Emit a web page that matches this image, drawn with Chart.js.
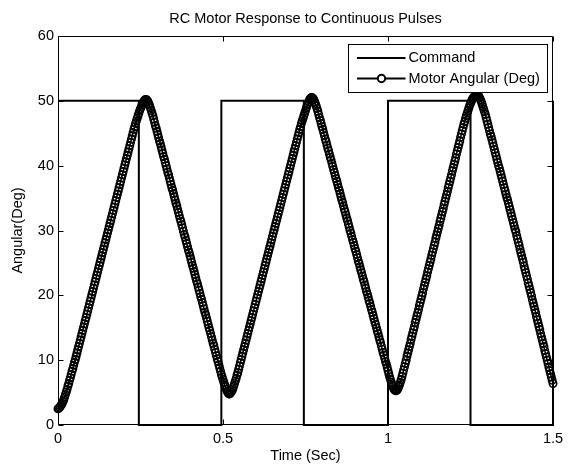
<!DOCTYPE html>
<html>
<head>
<meta charset="utf-8">
<title>RC Motor Response to Continuous Pulses</title>
<script src="https://cdn.jsdelivr.net/npm/chart.js@4.4.0/dist/chart.umd.min.js"></script>
<style>
    html, body { margin: 0; padding: 0; background: #fff; }
    #chart { display: block; }
</style>
</head>
<body>
<canvas id="chart" width="569" height="465"></canvas>
<script>
// tiempo entre muestras del motor (s)
const pasoMuestra = 0.0025;

const tiempoComando = [0, 0.245, 0.245, 0.495, 0.495, 0.745, 0.745, 1.0, 1.0, 1.25, 1.25, 1.5, 1.5];
const nivelComando = [50, 50, 0, 0, 50, 50, 0, 0, 50, 50, 0, 0, 50];

// angulo del motor, un arreglo por cada pulso (0-0.5 s, 0.5-1 s, 1-1.5 s)
const motorPulso1 = [
    2.5, 2.6, 2.7, 2.9, 3.1, 3.3, 3.6, 3.9, 4.3, 4.7,
    5.1, 5.5, 6.0, 6.4, 6.9, 7.3, 7.8, 8.3, 8.7, 9.2,
    9.7, 10.1, 10.6, 11.1, 11.6, 12.1, 12.6, 13.1, 13.6, 14.1,
    14.6, 15.1, 15.6, 16.1, 16.6, 17.1, 17.6, 18.1, 18.6, 19.1,
    19.6, 20.1, 20.6, 21.1, 21.6, 22.1, 22.6, 23.1, 23.6, 24.1,
    24.6, 25.1, 25.6, 26.1, 26.6, 27.1, 27.6, 28.1, 28.6, 29.1,
    29.6, 30.1, 30.6, 31.1, 31.6, 32.1, 32.6, 33.1, 33.6, 34.1,
    34.6, 35.1, 35.6, 36.1, 36.6, 37.1, 37.6, 38.1, 38.6, 39.1,
    39.6, 40.1, 40.6, 41.1, 41.6, 42.1, 42.6, 43.1, 43.6, 44.1,
    44.6, 45.1, 45.6, 46.0, 46.5, 46.9, 47.3, 47.7, 48.1, 48.5,
    48.8, 49.1, 49.4, 49.7, 49.9, 50.1, 50.2, 50.2, 50.1, 49.9,
    49.6, 49.3, 48.9, 48.5, 48.1, 47.7, 47.2, 46.7, 46.2, 45.8,
    45.3, 44.8, 44.3, 43.8, 43.4, 42.9, 42.4, 41.9, 41.4, 41.0,
    40.5, 40.0, 39.5, 39.0, 38.6, 38.1, 37.6, 37.1, 36.6, 36.2,
    35.7, 35.2, 34.7, 34.2, 33.8, 33.3, 32.8, 32.3, 31.8, 31.4,
    30.9, 30.4, 29.9, 29.4, 29.0, 28.5, 28.0, 27.5, 27.0, 26.6,
    26.1, 25.6, 25.1, 24.6, 24.2, 23.7, 23.2, 22.7, 22.2, 21.8,
    21.3, 20.8, 20.3, 19.8, 19.4, 18.9, 18.4, 17.9, 17.4, 17.0,
    16.5, 16.0, 15.5, 15.0, 14.6, 14.1, 13.6, 13.1, 12.6, 12.2,
    11.7, 11.2, 10.7, 10.2, 9.8, 9.3, 8.8, 8.3, 7.8, 7.4
];
const motorPulso2 = [
    7.0, 6.6, 6.2, 5.9, 5.5, 5.2, 5.0, 4.8, 4.8, 4.9,
    5.1, 5.3, 5.6, 6.0, 6.4, 6.8, 7.2, 7.7, 8.1, 8.6,
    9.1, 9.6, 10.1, 10.6, 11.1, 11.6, 12.1, 12.6, 13.1, 13.6,
    14.1, 14.6, 15.1, 15.6, 16.1, 16.6, 17.1, 17.6, 18.1, 18.6,
    19.1, 19.6, 20.1, 20.6, 21.1, 21.6, 22.1, 22.6, 23.1, 23.6,
    24.1, 24.6, 25.1, 25.6, 26.1, 26.6, 27.1, 27.6, 28.1, 28.6,
    29.1, 29.6, 30.1, 30.6, 31.1, 31.6, 32.1, 32.6, 33.1, 33.6,
    34.1, 34.6, 35.1, 35.6, 36.1, 36.6, 37.1, 37.6, 38.1, 38.6,
    39.1, 39.6, 40.1, 40.6, 41.1, 41.6, 42.1, 42.6, 43.1, 43.6,
    44.1, 44.6, 45.1, 45.6, 46.0, 46.5, 46.9, 47.3, 47.7, 48.1,
    48.5, 48.9, 49.3, 49.6, 49.9, 50.2, 50.4, 50.5, 50.5, 50.4,
    50.2, 49.9, 49.6, 49.2, 48.8, 48.4, 47.9, 47.4, 47.0, 46.5,
    46.0, 45.6, 45.1, 44.6, 44.1, 43.7, 43.2, 42.7, 42.3, 41.8,
    41.3, 40.9, 40.4, 39.9, 39.4, 39.0, 38.5, 38.0, 37.6, 37.1,
    36.6, 36.2, 35.7, 35.2, 34.7, 34.3, 33.8, 33.3, 32.9, 32.4,
    31.9, 31.5, 31.0, 30.5, 30.0, 29.6, 29.1, 28.6, 28.2, 27.7,
    27.2, 26.8, 26.3, 25.8, 25.3, 24.9, 24.4, 23.9, 23.5, 23.0,
    22.5, 22.1, 21.6, 21.1, 20.6, 20.2, 19.7, 19.2, 18.8, 18.3,
    17.8, 17.4, 16.9, 16.4, 15.9, 15.5, 15.0, 14.5, 14.1, 13.6,
    13.1, 12.7, 12.2, 11.7, 11.2, 10.8, 10.3, 9.8, 9.4, 8.9
];
const motorPulso3 = [
    8.4, 7.9, 7.4, 7.0, 6.6, 6.2, 5.9, 5.6, 5.4, 5.3,
    5.3, 5.4, 5.6, 5.9, 6.2, 6.6, 7.0, 7.5, 8.0, 8.5,
    9.0, 9.5, 10.0, 10.6, 11.1, 11.6, 12.1, 12.6, 13.2, 13.7,
    14.2, 14.7, 15.2, 15.8, 16.3, 16.8, 17.3, 17.8, 18.4, 18.9,
    19.4, 19.9, 20.4, 21.0, 21.5, 22.0, 22.5, 23.0, 23.6, 24.1,
    24.6, 25.1, 25.6, 26.2, 26.7, 27.2, 27.7, 28.2, 28.8, 29.3,
    29.8, 30.3, 30.8, 31.4, 31.9, 32.4, 32.9, 33.4, 34.0, 34.5,
    35.0, 35.5, 36.0, 36.6, 37.1, 37.6, 38.1, 38.6, 39.2, 39.7,
    40.2, 40.7, 41.2, 41.8, 42.3, 42.8, 43.3, 43.8, 44.4, 44.9,
    45.4, 45.9, 46.4, 46.8, 47.3, 47.7, 48.1, 48.5, 48.9, 49.3,
    49.6, 49.9, 50.2, 50.4, 50.6, 50.8, 50.9, 51.0, 51.0, 50.9,
    50.7, 50.5, 50.2, 49.9, 49.5, 49.1, 48.7, 48.3, 47.9, 47.4,
    46.9, 46.4, 45.9, 45.4, 44.9, 44.5, 44.0, 43.5, 43.0, 42.5,
    42.0, 41.5, 41.0, 40.5, 40.0, 39.6, 39.1, 38.6, 38.1, 37.6,
    37.1, 36.6, 36.1, 35.6, 35.1, 34.7, 34.2, 33.7, 33.2, 32.7,
    32.2, 31.7, 31.2, 30.7, 30.2, 29.8, 29.2, 28.7, 28.2, 27.7,
    27.1, 26.6, 26.1, 25.6, 25.1, 24.5, 24.0, 23.5, 23.0, 22.5,
    21.9, 21.4, 20.9, 20.4, 19.9, 19.3, 18.8, 18.3, 17.8, 17.3,
    16.7, 16.2, 15.7, 15.2, 14.7, 14.1, 13.6, 13.1, 12.6, 12.1,
    11.5, 11.0, 10.5, 10.0, 9.5, 8.9, 8.4, 7.9, 7.4, 6.9,
    6.4
];

const ticksX = [0, 0.5, 1, 1.5];
const etiquetasX = ["0", "0.5", "1", "1.5"];
const ticksY = [0, 10, 20, 30, 40, 50, 60];
const etiquetasY = ["0", "10", "20", "30", "40", "50", "60"];
const nombresSeries = ["Command", "Motor Angular (Deg)"];

const fuente = '"Liberation Sans", Arial, Helvetica, sans-serif';
const tamanoTexto = 14.5;

const anguloMotor = [...motorPulso1, ...motorPulso2, ...motorPulso3];
const puntosMotor = anguloMotor.map((valor, i) => ({ x: i * pasoMuestra, y: valor }));
const puntosComando = tiempoComando.map((t, i) => ({ x: t, y: nivelComando[i] }));

// marco de ejes con marcas hacia adentro en los cuatro lados
const marcoEjes = {
    id: "marcoEjes",
    afterDraw(chart) {
        const ctx = chart.ctx;
        const area = chart.chartArea;
        const ejeX = chart.scales.x;
        const ejeY = chart.scales.y;
        const largo = 5;
        const izq = area.left + 0.5, der = area.right - 0.5;
        const arr = area.top + 0.5, aba = area.bottom - 0.5;

        ctx.save();
        ctx.strokeStyle = "#000";
        ctx.lineWidth = 1;
        ctx.beginPath();
        ctx.rect(izq, arr, der - izq, aba - arr);
        ticksX.forEach(v => {
            const px = Math.round(ejeX.getPixelForValue(v)) + 0.5;
            ctx.moveTo(px, aba); ctx.lineTo(px, aba - largo);
            ctx.moveTo(px, arr); ctx.lineTo(px, arr + largo);
        });
        ticksY.forEach(v => {
            const py = Math.round(ejeY.getPixelForValue(v)) + 0.5;
            ctx.moveTo(izq, py); ctx.lineTo(izq + largo, py);
            ctx.moveTo(der, py); ctx.lineTo(der - largo, py);
        });
        ctx.stroke();
        ctx.restore();
    }
};

const leyendaCaja = {
    id: "leyendaCaja",
    afterDraw(chart) {
        const ctx = chart.ctx;
        const area = chart.chartArea;
        const ancho = 199, alto = 48;
        const x0 = Math.round(area.right - 6 - ancho) + 0.5;
        const y0 = Math.round(area.top + 7.5) + 0.5;
        const filas = [y0 + 13.5, y0 + 34];

        ctx.save();
        ctx.fillStyle = "#fff";
        ctx.fillRect(x0, y0, ancho, alto);
        ctx.strokeStyle = "#000";
        ctx.lineWidth = 1;
        ctx.strokeRect(x0, y0, ancho, alto);

        chart.data.datasets.forEach((ds, i) => {
            const y = filas[i];
            ctx.beginPath();
            ctx.strokeStyle = ds.borderColor;
            ctx.lineWidth = 2;
            ctx.moveTo(x0 + 8.5, y);
            ctx.lineTo(x0 + 57, y);
            ctx.stroke();
            if (ds.pointRadius > 0) {
                ctx.beginPath();
                ctx.lineWidth = ds.pointBorderWidth + 0.4;
                ctx.arc(x0 + 33, y, ds.pointRadius, 0, 2 * Math.PI);
                ctx.fillStyle = "#fff";
                ctx.fill();
                ctx.stroke();
            }
            ctx.fillStyle = "#000";
            ctx.font = tamanoTexto + "px " + fuente;
            ctx.textAlign = "left";
            ctx.textBaseline = "middle";
            ctx.fillText(ds.label, x0 + 60, y);
        });
        ctx.restore();
    }
};

const contexto = document.getElementById("chart").getContext("2d");

new Chart(contexto, {
    type: "line",
    data: {
        datasets: [
            {
                label: nombresSeries[0],
                data: puntosComando,
                borderColor: "#000",
                borderWidth: 2,
                pointRadius: 0,
                tension: 0,
                clip: false,
                order: 1
            },
            {
                label: nombresSeries[1],
                data: puntosMotor,
                borderColor: "#000",
                borderWidth: 1.5,
                pointRadius: 3.7,
                pointBorderWidth: 1.6,
                pointBorderColor: "#000",
                pointBackgroundColor: "rgba(0,0,0,0)",
                pointStyle: "circle",
                tension: 0,
                clip: false,
                order: 0
            }
        ]
    },
    options: {
        responsive: false,
        devicePixelRatio: 1,
        animation: false,
        events: [],
        layout: { padding: { left: 0, right: 16, top: 0, bottom: 0 } },
        plugins: {
            legend: { display: false },
            tooltip: { enabled: false },
            title: {
                display: true,
                text: "RC Motor Response to Continuous Pulses",
                color: "#000",
                fullSize: false,
                font: { family: fuente, size: tamanoTexto, weight: "normal", lineHeight: 1.2 },
                padding: { top: 10, bottom: 8.6 }
            }
        },
        scales: {
            x: {
                type: "linear",
                min: 0,
                max: 1.5,
                afterBuildTicks: eje => { eje.ticks = ticksX.map(v => ({ value: v })); },
                afterFit: eje => { eje.height = 40; },
                grid: { display: false, drawTicks: false },
                border: { display: false },
                ticks: {
                    color: "#000",
                    padding: 5.5,
                    maxRotation: 0,
                    autoSkip: false,
                    font: { family: fuente, size: tamanoTexto },
                    callback: (valor, indice) => etiquetasX[indice]
                },
                title: {
                    display: true,
                    text: "Time (Sec)",
                    color: "#000",
                    font: { family: fuente, size: tamanoTexto },
                    padding: { top: 0, bottom: 0 }
                }
            },
            y: {
                type: "linear",
                min: 0,
                max: 60,
                afterBuildTicks: eje => { eje.ticks = ticksY.map(v => ({ value: v })); },
                afterFit: eje => { eje.width = 58; },
                grid: { display: false, drawTicks: false },
                border: { display: false },
                ticks: {
                    color: "#000",
                    padding: 4,
                    autoSkip: false,
                    font: { family: fuente, size: tamanoTexto },
                    callback: (valor, indice) => etiquetasY[indice]
                },
                title: {
                    display: true,
                    text: "Angular(Deg)",
                    color: "#000",
                    font: { family: fuente, size: tamanoTexto },
                    padding: { top: 9, bottom: 0 }
                }
            }
        }
    },
    plugins: [marcoEjes, leyendaCaja]
});
</script>
</body>
</html>
